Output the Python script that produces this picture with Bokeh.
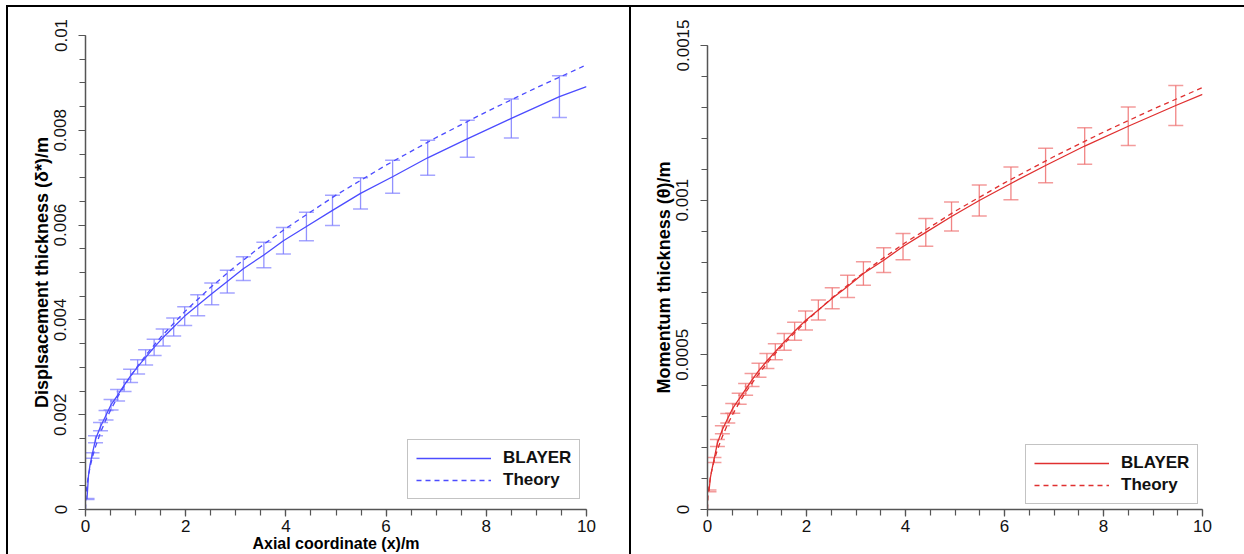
import numpy as np
from bokeh.plotting import figure
from bokeh.layouts import row, column
from bokeh.models import (ColumnDataSource, Whisker, TeeHead, FixedTicker, Div,
                          CustomJSTickFormatter, Legend, LegendItem, Range1d)
from bokeh.embed import file_html
from bokeh.resources import INLINE

# ---------------- data ----------------
bar_x = [0.03, 0.13, 0.2, 0.3, 0.41, 0.51, 0.64, 0.77, 0.9, 1.04, 1.2, 1.37, 1.55, 1.76,
         1.98, 2.24, 2.52, 2.83, 3.15, 3.56, 3.95, 4.41, 4.93, 5.49, 6.13, 6.83, 7.62, 8.5, 9.46]

disp_blayer = [0.00022, 0.00114, 0.00148, 0.00175, 0.00199, 0.00221, 0.00241, 0.00262, 0.00282,
               0.00301, 0.00321, 0.00342, 0.00363, 0.00385, 0.00408, 0.00431, 0.00455, 0.00481,
               0.00508, 0.00537, 0.00567, 0.00597, 0.00631, 0.00667, 0.00702, 0.00742, 0.00782,
               0.00825, 0.00871]
disp_err = [0.000011, 0.000057, 0.000074, 0.000088, 0.0001, 0.00011, 0.00012, 0.00013, 0.00014,
            0.00015, 0.00016, 0.00017, 0.00018, 0.00019, 0.0002, 0.00022, 0.00023, 0.00024,
            0.00025, 0.00027, 0.00028, 0.0003, 0.00032, 0.00033, 0.00035, 0.00037, 0.00039,
            0.00041, 0.00044]

mom_blayer = [0.00006, 0.00016, 0.000215, 0.000258, 0.000295, 0.000327, 0.000358, 0.000388,
              0.000419, 0.00045, 0.00048, 0.00051, 0.000542, 0.000576, 0.000611, 0.000645,
              0.000683, 0.000721, 0.000763, 0.000806, 0.00085, 0.000896, 0.000947, 0.000999,
              0.001054, 0.001112, 0.001175, 0.001239, 0.001306]
mom_err = [0.000003, 0.000008, 0.000011, 0.000013, 0.000015, 0.000016, 0.000018, 0.000019,
           0.000021, 0.0000225, 0.000024, 0.0000255, 0.000027, 0.000029, 0.0000305, 0.000032,
           0.000034, 0.000036, 0.000038, 0.00004, 0.0000425, 0.000045, 0.000047, 0.00005,
           0.000053, 0.000056, 0.000059, 0.000062, 0.000065]

# BLAYER line (bar points plus a few extra near the leading edge and the end)
disp_line_x = [0.03, 0.06, 0.09] + bar_x[1:] + [10.0]
disp_line_y = [0.00022, 0.00072, 0.00094] + disp_blayer[1:] + [0.00892]
mom_line_x = [0.03, 0.06, 0.09] + bar_x[1:] + [10.0]
mom_line_y = [0.00006, 0.000105, 0.00013] + mom_blayer[1:] + [0.001342]

theory_x = [0, 0.01, 0.03, 0.06, 0.1, 0.15, 0.2, 0.3, 0.4, 0.5, 0.65, 0.8, 1.0, 1.25, 1.5,
            2, 2.5, 3, 3.5, 4, 5, 6, 7, 8, 9, 10]
disp_theory = [0, 0.000297, 0.000514, 0.000727, 0.000938, 0.001149, 0.001326, 0.001625,
               0.001876, 0.002097, 0.002391, 0.002653, 0.002966, 0.003316, 0.003633, 0.004195,
               0.00469, 0.005137, 0.005549, 0.005932, 0.006632, 0.007265, 0.007847, 0.008389,
               0.008898, 0.00938]
mom_theory = [0, 0.0000431, 0.0000747, 0.0001056, 0.0001364, 0.000167, 0.000193, 0.000236,
              0.000273, 0.000305, 0.000348, 0.000386, 0.000431, 0.000482, 0.000528, 0.00061,
              0.000682, 0.000747, 0.000807, 0.000863, 0.000964, 0.001056, 0.001141, 0.00122,
              0.001294, 0.001364]

x_ticks = [0, 2, 4, 6, 8, 10]
x_tick_labels = ["0", "2", "4", "6", "8", "10"]
disp_ticks = [0, 0.002, 0.004, 0.006, 0.008, 0.01]
disp_tick_labels = ["0", "0.002", "0.004", "0.006", "0.008", "0.01"]
mom_ticks = [0, 0.0005, 0.001, 0.0015]
mom_tick_labels = ["0", "0.0005", "0.001", "0.0015"]

legend_labels = ["BLAYER", "Theory"]
x_title = "Axial coordinate (x)/m"
disp_title = "Displsacement thickness (δ*)/m"
mom_title = "Momentum thickness (θ)/m"

FONT = "Liberation Sans"

JS = """
for (let i = 0; i < vals.length; i++) {
  if (Math.abs(vals[i] - tick) < 1e-9) { return labels[i]; }
}
return "";
"""


def style_axis(ax, ticks, labels, minor, vertical=False):
    ax.ticker = FixedTicker(ticks=ticks, minor_ticks=minor)
    ax.formatter = CustomJSTickFormatter(args=dict(vals=ticks, labels=labels), code=JS)
    ax.axis_line_color = "#555555"
    ax.axis_line_width = 1.5
    ax.major_tick_line_color = "#555555"
    ax.minor_tick_line_color = "#555555"
    ax.major_tick_line_width = 1.2
    ax.minor_tick_line_width = 1.2
    ax.major_tick_in = 0
    ax.major_tick_out = 7
    ax.minor_tick_in = 0
    ax.minor_tick_out = 6
    ax.major_label_text_font = FONT
    ax.major_label_text_font_size = "17px"
    ax.major_label_text_color = "#111111"
    ax.axis_label_text_font = FONT
    ax.axis_label_text_font_size = "18px"
    ax.axis_label_text_font_style = "bold"
    ax.axis_label_text_color = "#000000"
    if vertical:
        ax.major_label_orientation = "vertical"
        ax.major_label_standoff = 12
        ax.axis_label_standoff = 0
    else:
        ax.major_label_standoff = 3
        ax.axis_label_standoff = 0


def panel(width, height, ymax, yticks, ylabels, yminor, ytitle,
          line_x, line_y, bx, by, berr, tx, ty, line_color, bar_color,
          mb, legend_loc, xtitle=None, margin=0):
    p = figure(width=width, height=height, x_range=Range1d(0, 10), y_range=Range1d(0, ymax),
               output_backend="svg", toolbar_location=None, title=None,
               min_border_left=mb[0], min_border_right=mb[1],
               min_border_top=mb[2], min_border_bottom=mb[3], margin=margin)
    p.outline_line_color = None
    p.xgrid.visible = False
    p.ygrid.visible = False
    p.background_fill_color = "white"
    p.border_fill_color = "white"

    style_axis(p.xaxis[0], x_ticks, x_tick_labels, [v * 0.5 for v in range(0, 21)])
    style_axis(p.yaxis[0], yticks, ylabels, yminor, vertical=True)
    p.yaxis[0].axis_label = ytitle
    if xtitle:
        p.xaxis[0].axis_label = xtitle
        p.xaxis[0].axis_label_text_font_size = "16px"

    upper = [a + b for a, b in zip(by, berr)]
    lower = [a - b for a, b in zip(by, berr)]
    src = ColumnDataSource(dict(x=bx, upper=upper, lower=lower))
    w = Whisker(source=src, base="x", upper="upper", lower="lower", dimension="height",
                line_color=bar_color, line_width=1.3, line_alpha=0.85,
                upper_head=TeeHead(size=15, line_color=bar_color, line_width=1.5, line_alpha=0.7),
                lower_head=TeeHead(size=15, line_color=bar_color, line_width=1.5, line_alpha=0.7))
    p.add_layout(w)

    l1 = p.line(line_x, line_y, line_color=line_color, line_width=1.3)
    l2 = p.line(tx, ty, line_color=line_color, line_width=1.3, line_dash="5 4")

    leg = Legend(items=[LegendItem(label=legend_labels[0], renderers=[l1]),
                        LegendItem(label=legend_labels[1], renderers=[l2])],
                 location=legend_loc, orientation="vertical")
    leg.label_text_font = FONT
    leg.label_text_font_size = "17px"
    leg.label_text_font_style = "bold"
    leg.label_text_color = "#111111"
    leg.glyph_width = 75
    leg.glyph_height = 18
    leg.label_height = 18
    leg.label_standoff = 12
    leg.spacing = 2
    leg.padding = 8
    leg.margin = 0
    leg.border_line_color = "#888888"
    leg.border_line_width = 1.2
    leg.background_fill_color = "white"
    leg.background_fill_alpha = 1.0
    p.add_layout(leg)
    return p


H = 547
p1 = panel(621, H, 0.01, disp_ticks, disp_tick_labels,
           [round(v * 0.0005, 6) for v in range(0, 21)], disp_title,
           disp_line_x, disp_line_y, bar_x, disp_blayer, disp_err,
           theory_x, disp_theory, "#4c4cff", "#7f7fff",
           (77, 43, 28, 45), (322, 10), xtitle=x_title)

p2 = panel(613, H - 10, 0.0015, mom_ticks, mom_tick_labels,
           [round(v * 0.0001, 6) for v in range(0, 16)], mom_title,
           mom_line_x, mom_line_y, bar_x, mom_blayer, mom_err,
           theory_x, mom_theory, "#e03030", "#ee7070",
           (76, 42, 28, 41), (318, 5), margin=(10, 0, 0, 0))


def vline():
    return Div(text="", width=2, height=H, margin=0,
               styles={"background-color": "black"})


top_line = Div(text="", width=1238, height=2, margin=(5, 0, 0, 6),
               styles={"background-color": "black"})
body = row(children=[vline(), p1, vline(), p2], margin=(0, 0, 0, 6), spacing=0)
layout = column(children=[top_line, body], spacing=0)
open("out.html", "w").write(file_html(layout, INLINE))
